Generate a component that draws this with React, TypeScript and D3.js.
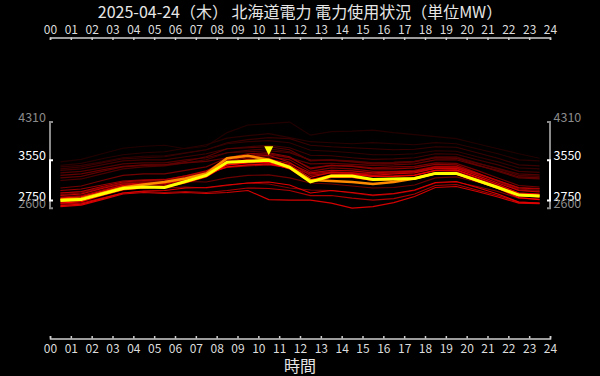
import React, { useEffect, useRef } from "react";
import * as d3 from "d3";

const TITLE = "2025-04-24（木） 北海道電力 電力使用状況（単位MW）";
const X_LABEL = "時間";
const HOURS = d3.range(0, 25);
const POINT_HOURS = d3.range(0.5, 24, 1);

// today (yellow)
const todayLoad = [2750, 2770, 2880, 2990, 3020, 3010, 3130, 3250, 3510, 3530, 3550, 3410, 3120, 3240, 3240, 3170, 3180, 3190, 3290, 3290, 3150, 3010, 2860, 2840];
// yesterday (orange)
const yesterdayLoad = [2770, 2790, 2900, 3010, 3070, 3120, 3190, 3290, 3590, 3640, 3560, 3420, 3160, 3140, 3120, 3080, 3120, 3190, 3290, 3290, 3150, 3010, 2860, 2840];

// previous days, most recent first
const pastLoads: number[][] = [
  [2700, 2730, 2850, 2960, 3000, 3010, 3100, 3220, 3460, 3500, 3510, 3380, 3110, 3210, 3210, 3150, 3160, 3180, 3280, 3270, 3130, 2990, 2810, 2770],
  [2800, 2830, 2940, 3050, 3080, 3090, 3170, 3270, 3420, 3460, 3480, 3390, 3160, 3260, 3270, 3230, 3230, 3250, 3350, 3360, 3220, 3070, 2900, 2880],
  [2650, 2680, 2790, 2900, 2940, 2950, 3000, 3010, 3060, 3100, 3120, 3060, 2900, 2950, 2910, 2860, 2890, 2960, 3110, 3130, 3010, 2880, 2720, 2700],
  [2630, 2660, 2770, 2880, 2910, 2890, 2910, 2890, 2910, 2950, 2770, 2760, 2760, 2700, 2600, 2630, 2710, 2830, 3010, 3030, 2930, 2820, 2700, 2690],
  [2850, 2880, 2990, 3080, 3100, 3100, 3190, 3290, 3460, 3510, 3530, 3460, 3210, 3310, 3300, 3250, 3280, 3300, 3390, 3390, 3250, 3100, 2950, 2920],
  [2720, 2760, 2870, 2980, 3030, 3050, 3120, 3240, 3490, 3570, 3590, 3430, 3170, 3240, 3220, 3150, 3170, 3210, 3310, 3320, 3180, 3030, 2850, 2820],
  [2900, 2930, 3030, 3120, 3150, 3160, 3240, 3340, 3510, 3540, 3570, 3490, 3300, 3350, 3340, 3300, 3320, 3330, 3420, 3420, 3290, 3150, 3000, 2980],
  [2680, 2700, 2800, 2900, 2930, 2910, 2930, 2910, 2950, 3000, 2990, 2950, 2850, 2850, 2800, 2760, 2790, 2880, 3050, 3070, 2960, 2850, 2720, 2700],
  [2780, 2800, 2920, 3030, 3060, 3070, 3160, 3280, 3560, 3620, 3650, 3510, 3250, 3300, 3280, 3230, 3240, 3260, 3350, 3350, 3200, 3050, 2900, 2870],
  [2950, 2980, 3060, 3140, 3160, 3170, 3240, 3310, 3410, 3440, 3460, 3410, 3280, 3320, 3300, 3280, 3300, 3320, 3400, 3400, 3280, 3150, 3010, 2990],
  [2820, 2850, 2960, 3060, 3090, 3100, 3200, 3330, 3600, 3680, 3700, 3620, 3380, 3450, 3430, 3380, 3380, 3400, 3470, 3460, 3300, 3130, 2960, 2930],
  [2760, 2790, 2900, 3000, 3020, 3000, 3020, 3000, 3050, 3100, 3080, 3000, 2960, 2950, 2900, 2850, 2880, 2950, 3100, 3120, 3030, 2930, 2800, 2780],
  [2870, 2900, 3000, 3100, 3130, 3140, 3220, 3330, 3530, 3600, 3620, 3560, 3330, 3400, 3380, 3330, 3330, 3350, 3430, 3430, 3290, 3140, 2980, 2950],
  [3000, 3040, 3150, 3250, 3280, 3280, 3350, 3420, 3600, 3650, 3680, 3600, 3400, 3450, 3440, 3400, 3420, 3430, 3500, 3490, 3350, 3200, 3050, 3020],
  [2900, 2920, 3010, 3100, 3120, 3110, 3130, 3120, 3200, 3250, 3260, 3200, 3100, 3080, 3040, 3000, 3010, 3060, 3200, 3220, 3120, 3010, 2880, 2860],
  [3250, 3280, 3360, 3430, 3460, 3460, 3500, 3530, 3600, 3640, 3660, 3600, 3480, 3490, 3470, 3450, 3460, 3480, 3560, 3560, 3450, 3350, 3220, 3200],
  [3200, 3230, 3330, 3420, 3450, 3460, 3530, 3620, 3780, 3800, 3820, 3760, 3540, 3560, 3520, 3480, 3490, 3520, 3600, 3590, 3460, 3330, 3200, 3180],
  [3300, 3330, 3400, 3480, 3500, 3500, 3560, 3600, 3700, 3720, 3740, 3700, 3560, 3550, 3530, 3500, 3510, 3530, 3600, 3600, 3490, 3390, 3280, 3260],
  [3150, 3180, 3280, 3380, 3420, 3440, 3500, 3560, 3700, 3750, 3780, 3720, 3550, 3560, 3540, 3500, 3510, 3530, 3620, 3620, 3500, 3380, 3250, 3230],
  [3350, 3380, 3460, 3540, 3560, 3560, 3620, 3680, 3780, 3820, 3850, 3800, 3650, 3640, 3600, 3570, 3580, 3600, 3680, 3670, 3560, 3460, 3330, 3310],
  [3380, 3420, 3500, 3580, 3600, 3620, 3690, 3760, 3900, 3960, 4000, 3980, 3850, 3820, 3800, 3780, 3760, 3770, 3820, 3810, 3700, 3590, 3460, 3440],
  [3420, 3450, 3520, 3600, 3630, 3640, 3700, 3760, 3880, 3920, 3940, 3900, 3750, 3730, 3700, 3660, 3660, 3680, 3740, 3730, 3620, 3520, 3400, 3380],
  [3450, 3490, 3580, 3660, 3700, 3720, 3790, 3860, 3990, 4040, 4080, 4000, 3920, 3900, 3880, 3900, 3880, 3860, 3900, 3880, 3780, 3680, 3560, 3540],
  [3520, 3570, 3680, 3790, 3830, 3850, 3780, 3830, 4100, 4250, 4280, 4310, 4050, 4120, 4130, 4150, 4100, 4060, 4020, 3980, 3880, 3780, 3680, 3590],
];

const W = 600;
const H = 376;

export default function App() {
  const ref = useRef<SVGSVGElement | null>(null);

  useEffect(() => {
    document.body.style.margin = "0";
    document.body.style.background = "#000";
    const svg = d3.select(ref.current);
    svg.selectAll("*").remove();

    const x = d3.scaleLinear().domain([0, 24]).range([50, 550]);
    const y = d3.scaleLinear().domain([0, 6000]).range([339, 37]);
    const font = "'Noto Sans CJK JP', 'Noto Sans', sans-serif";

    svg.append("rect").attr("width", W).attr("height", H).attr("fill", "#000");

    // title
    svg.append("text").attr("x", 300).attr("y", 17.5).attr("text-anchor", "middle")
      .attr("fill", "#e6e6e6").attr("font-size", 16).attr("font-family", font).text(TITLE);

    const fmt = (d: number) => d3.format("02d")(d);

    const topAxis = svg.append("g").attr("transform", "translate(0,37.5)")
      .call(d3.axisTop(x).tickValues(HOURS).tickFormat(fmt as any).tickSizeInner(-2.5).tickSizeOuter(-2.5).tickPadding(3.5));
    const botAxis = svg.append("g").attr("transform", "translate(0,338.5)")
      .call(d3.axisBottom(x).tickValues(HOURS).tickFormat(fmt as any).tickSizeInner(-2.5).tickSizeOuter(-2.5).tickPadding(5.5));
    [topAxis, botAxis].forEach((g) => {
      g.select(".domain").attr("stroke", "#cfcfcf").attr("stroke-width", 1.5);
      g.selectAll(".tick line").attr("stroke", "#cfcfcf").attr("stroke-width", 1.5);
      g.selectAll(".tick text").attr("fill", "#dcdcdc").attr("font-size", 12).attr("font-family", font);
    });

    svg.append("text").attr("x", 300).attr("y", 372).attr("text-anchor", "middle")
      .attr("fill", "#e6e6e6").attr("font-size", 16).attr("font-family", font).text(X_LABEL);

    // range brackets
    const allVals = pastLoads.flat().concat(todayLoad, yesterdayLoad);
    const gMax = d3.max(allVals) as number;
    const gMin = d3.min(allVals) as number;
    const tMax = d3.max(todayLoad) as number;
    const tMin = d3.min(todayLoad) as number;

    const bracket = (ax: number, dir: number, lo: number, hi: number, color: string, sw: number) => {
      const p = d3.path();
      p.moveTo(ax + dir * 3, y(hi));
      p.lineTo(ax, y(hi));
      p.lineTo(ax, y(lo));
      p.lineTo(ax + dir * 3, y(lo));
      svg.append("path").attr("d", p.toString()).attr("fill", "none")
        .attr("stroke", color).attr("stroke-width", sw);
    };
    [[50, 1], [550, -1]].forEach(([ax, dir]) => {
      bracket(ax, dir, gMin, gMax, "#8a8a8a", 2);
      bracket(ax, dir, tMin, tMax, "#ffffff", 2);
      const anchor = dir === 1 ? "end" : "start";
      const lx = dir === 1 ? ax - 4 : ax + 3.5;
      [[gMax, "#8a8a8a"], [tMax, "#ffffff"], [tMin, "#ffffff"], [gMin, "#8a8a8a"]].forEach(([v, c]) => {
        svg.append("text").attr("x", lx).attr("y", y(v as number)).attr("text-anchor", anchor)
          .attr("fill", c as string).attr("font-size", 12.5).attr("font-family", font).text(String(v));
      });
    });

    const line = d3.line<number>().x((_, i) => x(POINT_HOURS[i])).y((d) => y(d));
    const color = d3.scalePow<string>().exponent(0.8).domain([0, pastLoads.length - 1])
      .range(["#ff0000", "#220000"]).interpolate(d3.interpolateRgb);

    const g = svg.append("g");
    for (let i = pastLoads.length - 1; i >= 0; i--) {
      g.append("path").attr("d", line(pastLoads[i]) as string).attr("fill", "none")
        .attr("stroke", color(i)).attr("stroke-width", 1.15);
    }
    g.append("path").attr("d", line(yesterdayLoad) as string).attr("fill", "none")
      .attr("stroke", "#ff8c00").attr("stroke-width", 2.5);
    g.append("path").attr("d", line(todayLoad) as string).attr("fill", "none")
      .attr("stroke", "#ffff00").attr("stroke-width", 3);

    // peak marker
    const pi = todayLoad.indexOf(tMax);
    const px = x(POINT_HOURS[pi]);
    const py = y(tMax) - 5;
    const tri = d3.path();
    tri.moveTo(px, py);
    tri.lineTo(px - 4.5, py - 9);
    tri.lineTo(px + 4.5, py - 9);
    tri.closePath();
    svg.append("path").attr("d", tri.toString()).attr("fill", "#ffff00");
  }, []);

  return <svg ref={ref} width={W} height={H} style={{ display: "block" }} />;
}
